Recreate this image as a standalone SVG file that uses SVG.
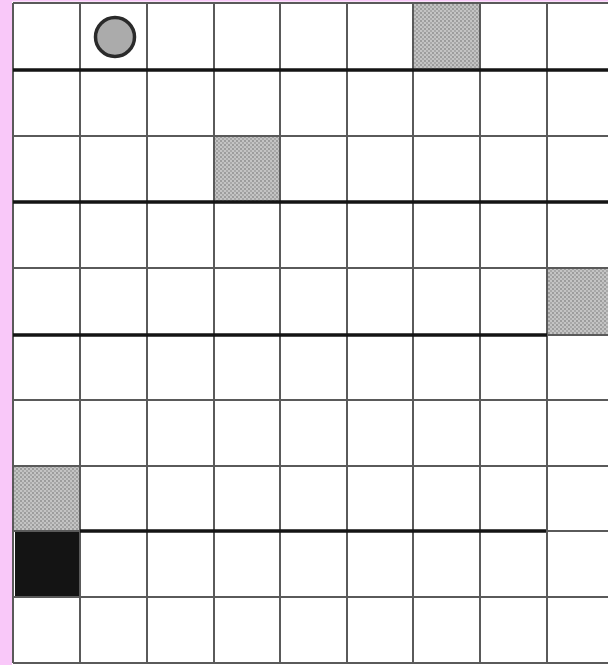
<svg xmlns="http://www.w3.org/2000/svg" width="608" height="665" viewBox="0 0 608 665">
<defs>
<pattern id="stip" width="4" height="4" patternUnits="userSpaceOnUse">
<rect width="4" height="4" fill="#c4c4c4"/>
<circle cx="1" cy="1" r="0.9" fill="#8a8a8a"/>
<circle cx="3" cy="3" r="0.9" fill="#9a9a9a"/>
</pattern>
<style>
.thin{stroke:#5a5a5a;stroke-width:2;fill:none}
.thick{stroke:#141414;stroke-width:3.5;fill:none}
.shade{fill:url(#stip)}
</style>
</defs>
<rect x="0" y="0" width="608" height="665" fill="#ffffff"/>
<rect x="0" y="0" width="12" height="665" fill="#f9c8f9"/>
<rect x="0" y="0" width="608" height="1.5" fill="#f9c8f9"/>
<g id="cells">
<rect class="shade" x="414" y="4" width="66" height="65"/>
<rect class="shade" x="214" y="137" width="66" height="64"/>
<rect class="shade" x="547" y="269" width="61" height="65"/>
<rect class="shade" x="14" y="467" width="66" height="63"/>
<rect x="15" y="532" width="64" height="64" fill="#141414"/>
</g>
<g id="grid">
<path class="thin" d="M13 3V663 M80 3V663 M147 3V663 M214 3V663 M280 3V663 M347 3V663 M413 3V663 M480 3V663 M547 3V663"/>
<path class="thin" d="M13 3H608 M13 136H608 M13 268H608 M13 400H608 M13 466H608 M13 597H608 M13 663H608 M547 335H608 M13 531H80 M546 531H608"/>
<path class="thick" d="M13 70H608 M13 202H608 M13 335H547 M80 531H546"/>
</g>
<g id="token">
<circle cx="115" cy="37" r="19.5" fill="#ababab" stroke="#2a2a2a" stroke-width="3.5"/>
</g>
</svg>
